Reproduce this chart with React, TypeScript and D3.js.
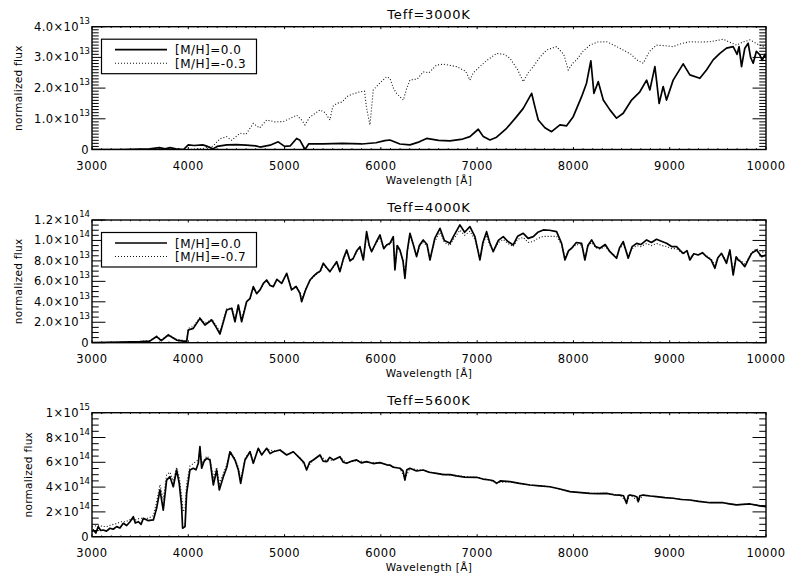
import React from "react";
import * as d3 from "d3";

// Wavelength axis (Angstrom)
const waveTicks = [3000, 4000, 5000, 6000, 7000, 8000, 9000, 10000];

// Teff = 3000 K, flux in units of 1e13
const t3000Solid: [number, number][] = [
  [3000, 0], [3300, 0], [3600, 0.02], [3700, 0.06], [3760, 0.02], [3810, 0.06], [3870, 0.02],
  [3950, 0], [4000, 0.15], [4060, 0.13], [4150, 0.15], [4200, 0.1], [4256, 0.02], [4300, 0.1],
  [4400, 0.15], [4500, 0.16], [4600, 0.14], [4700, 0.12], [4745, 0.08], [4850, 0.14], [4934, 0.25],
  [5000, 0.1], [5060, 0.12], [5125, 0.36], [5160, 0.3], [5212, 0], [5250, 0.18], [5400, 0.18],
  [5600, 0.2], [5800, 0.18], [5950, 0.22], [6040, 0.29], [6094, 0.31], [6198, 0.18], [6302, 0.15],
  [6400, 0.25], [6475, 0.36], [6600, 0.3], [6717, 0.28], [6850, 0.34], [6925, 0.42], [7012, 0.66],
  [7064, 0.42], [7133, 0.31], [7202, 0.4], [7306, 0.69], [7410, 1.07], [7479, 1.34], [7566, 1.83],
  [7600, 1.39], [7635, 0.96], [7704, 0.71], [7773, 0.58], [7860, 0.8], [7929, 0.77], [7998, 1.07],
  [8085, 1.72], [8136, 2.16], [8181, 2.89], [8213, 1.83], [8258, 2.21], [8310, 1.61], [8379, 1.29],
  [8448, 1.02], [8517, 1.18], [8604, 1.61], [8690, 1.88], [8760, 2.26], [8794, 1.94], [8846, 2.7],
  [8863, 2.26], [8890, 1.5], [8932, 2.05], [8967, 1.61], [9036, 2.26], [9140, 2.79], [9209, 2.43],
  [9313, 2.32], [9382, 2.59], [9451, 2.92], [9521, 3.13], [9590, 3.3], [9659, 3.35], [9700, 3.1],
  [9720, 3.35], [9746, 2.7], [9780, 3.3], [9815, 3.46], [9840, 3.0], [9867, 2.81], [9900, 3.2],
  [9936, 3.08], [9960, 2.9], [9988, 3.1], [10000, 3.0],
];
const t3000Poor: [number, number][] = [
  [3000, 0], [4000, 0], [4150, 0.03], [4256, 0.11], [4330, 0.35], [4399, 0.42], [4450, 0.3],
  [4537, 0.53], [4600, 0.5], [4675, 0.85], [4740, 0.7], [4814, 0.96], [4900, 0.9], [4987, 0.91],
  [5050, 1.0], [5125, 1.12], [5180, 0.95], [5212, 0.8], [5260, 1.05], [5368, 1.29], [5420, 1.2],
  [5471, 0.96], [5500, 1.4], [5541, 1.5], [5600, 1.55], [5645, 1.72], [5700, 1.8], [5783, 1.88],
  [5830, 1.9], [5852, 1.34], [5887, 0.8], [5921, 1.94], [6000, 2.2], [6060, 2.37], [6094, 2.32],
  [6130, 2.0], [6163, 1.83], [6233, 1.61], [6270, 2.0], [6302, 2.26], [6380, 2.3], [6440, 2.53],
  [6500, 2.5], [6578, 2.75], [6650, 2.78], [6786, 2.7], [6880, 2.55], [6925, 2.26], [6960, 2.5],
  [7029, 2.7], [7100, 2.9], [7202, 3.13], [7280, 3.1], [7341, 2.97], [7420, 2.6], [7479, 2.21],
  [7530, 2.5], [7583, 2.7], [7650, 3.0], [7721, 3.24], [7825, 3.35], [7900, 3.1], [7946, 2.59],
  [7990, 2.8], [8033, 2.92], [8100, 3.2], [8171, 3.4], [8250, 3.5], [8344, 3.51], [8420, 3.4],
  [8517, 3.24], [8600, 3.1], [8656, 2.92], [8725, 2.81], [8790, 3.2], [8863, 3.4], [8950, 3.38],
  [9036, 3.35], [9120, 3.45], [9209, 3.51], [9300, 3.5], [9417, 3.51], [9555, 3.59], [9620, 3.5],
  [9694, 3.4], [9760, 3.5], [9833, 3.57], [9900, 3.45], [9971, 3.35], [10000, 3.4],
];

// Teff = 4000 K, flux in units of 1e13
const t4000Solid: [number, number][] = [
  [3000, 0], [3300, 0.05], [3500, 0.1], [3600, 0.15], [3671, 0.6], [3720, 0.2], [3792, 0.75],
  [3879, 0.26], [3983, 0.1], [4000, 1.24], [4052, 1.4], [4121, 2.38], [4173, 1.73], [4243, 2.22],
  [4290, 1.5], [4329, 0.85], [4399, 3.2], [4451, 3.37], [4485, 2.05], [4520, 3.69], [4554, 2.05],
  [4606, 4.01], [4640, 4.3], [4675, 5.48], [4710, 4.8], [4745, 5.16], [4780, 5.8], [4814, 6.13],
  [4850, 5.6], [4883, 5.48], [4920, 6.2], [4970, 5.81], [5022, 6.79], [5073, 5.16], [5120, 5.5],
  [5160, 4.83], [5177, 4.01], [5220, 5.2], [5264, 6.13], [5300, 6.5], [5333, 6.79], [5370, 7.0],
  [5402, 7.77], [5440, 7.3], [5471, 6.95], [5541, 7.93], [5575, 6.95], [5610, 8.2], [5645, 9.07],
  [5680, 8.0], [5714, 8.26], [5750, 9.0], [5783, 9.39], [5818, 8.09], [5852, 10.86], [5880, 9.5],
  [5904, 8.9], [5950, 9.8], [5991, 10.54], [6030, 9.2], [6060, 9.56], [6094, 9.72], [6129, 10.37],
  [6146, 7.11], [6170, 9.5], [6198, 9.07], [6230, 8.0], [6250, 6.3], [6275, 9.0], [6302, 10.7],
  [6340, 9.5], [6371, 8.42], [6400, 9.5], [6440, 10.05], [6480, 9.6], [6510, 8.09], [6560, 10.2],
  [6614, 11.19], [6660, 10.0], [6717, 9.72], [6760, 10.5], [6821, 11.52], [6870, 10.8], [6925, 11.35],
  [6977, 10.37], [7029, 8.09], [7060, 9.8], [7098, 10.86], [7130, 9.8], [7167, 8.9], [7220, 10.0],
  [7271, 10.37], [7320, 9.9], [7375, 9.56], [7420, 10.4], [7479, 10.7], [7530, 10.2], [7583, 10.37],
  [7630, 10.8], [7687, 11.03], [7750, 11.0], [7825, 10.86], [7877, 9.72], [7912, 8.09], [7950, 9.0],
  [7981, 9.24], [8030, 9.8], [8085, 9.72], [8119, 8.09], [8150, 9.5], [8189, 10.05], [8230, 9.4],
  [8275, 9.24], [8330, 9.6], [8379, 8.9], [8448, 8.26], [8480, 9.3], [8517, 9.89], [8569, 8.26],
  [8610, 9.4], [8656, 9.72], [8700, 9.6], [8760, 10.05], [8810, 9.8], [8863, 10.11], [8920, 9.9],
  [8967, 9.72], [9020, 9.4], [9071, 9.39], [9110, 9.0], [9140, 8.74], [9180, 9.0], [9209, 8.09],
  [9250, 8.7], [9296, 8.58], [9340, 8.8], [9382, 8.42], [9430, 8.1], [9469, 7.28], [9500, 8.3],
  [9538, 8.74], [9590, 7.77], [9625, 9.07], [9659, 6.62], [9690, 8.4], [9711, 8.09], [9740, 7.9],
  [9780, 7.44], [9820, 8.2], [9850, 8.74], [9902, 9.07], [9954, 8.42], [10000, 8.58],
];
const t4000Poor: [number, number][] = [
  [3000, 0], [3300, 0.05], [3500, 0.12], [3600, 0.2], [3671, 0.65], [3720, 0.25], [3792, 0.8],
  [3879, 0.3], [3983, 0.2], [4000, 1.4], [4052, 1.6], [4121, 2.45], [4173, 1.9], [4243, 2.3],
  [4290, 1.7], [4329, 1.1], [4399, 3.3], [4451, 3.4], [4485, 2.3], [4520, 3.7], [4554, 2.3],
  [4606, 4.05], [4640, 4.3], [4675, 5.4], [4710, 4.85], [4745, 5.15], [4780, 5.75], [4814, 6.05],
  [4850, 5.6], [4883, 5.5], [4920, 6.15], [4970, 5.8], [5022, 6.7], [5073, 5.25], [5120, 5.5],
  [5160, 4.95], [5177, 4.25], [5220, 5.25], [5264, 6.05], [5300, 6.45], [5333, 6.7], [5370, 6.95],
  [5402, 7.6], [5440, 7.25], [5471, 6.95], [5541, 7.8], [5575, 7.0], [5610, 8.1], [5645, 8.9],
  [5680, 8.0], [5714, 8.2], [5750, 8.9], [5783, 9.25], [5818, 8.2], [5852, 10.6], [5880, 9.4],
  [5904, 8.95], [5950, 9.7], [5991, 10.3], [6030, 9.2], [6060, 9.5], [6094, 9.6], [6129, 10.2],
  [6146, 7.4], [6170, 9.4], [6198, 9.0], [6230, 8.1], [6250, 6.6], [6275, 8.9], [6302, 10.5],
  [6340, 9.4], [6371, 8.5], [6400, 9.4], [6440, 9.9], [6480, 9.4], [6510, 8.2], [6560, 9.9],
  [6614, 10.8], [6660, 9.8], [6717, 9.5], [6760, 10.2], [6821, 11.0], [6870, 10.5], [6925, 10.9],
  [6977, 10.1], [7029, 8.3], [7060, 9.6], [7098, 10.5], [7130, 9.6], [7167, 8.95], [7220, 9.8],
  [7271, 10.1], [7320, 9.7], [7375, 9.4], [7420, 10.1], [7479, 10.3], [7530, 9.8], [7583, 9.9],
  [7630, 10.2], [7687, 10.4], [7750, 10.4], [7825, 10.4], [7877, 9.6], [7912, 8.3], [7950, 9.0],
  [7981, 9.2], [8030, 9.6], [8085, 9.55], [8119, 8.3], [8150, 9.4], [8189, 9.8], [8230, 9.3],
  [8275, 9.15], [8330, 9.4], [8379, 8.9], [8448, 8.4], [8480, 9.2], [8517, 9.6], [8569, 8.5],
  [8610, 9.2], [8656, 9.5], [8700, 9.4], [8760, 9.7], [8810, 9.5], [8863, 9.7], [8920, 9.5],
  [8967, 9.4], [9020, 9.2], [9071, 9.2], [9110, 8.9], [9140, 8.7], [9180, 8.9], [9209, 8.3],
  [9250, 8.7], [9296, 8.6], [9340, 8.75], [9382, 8.5], [9430, 8.2], [9469, 7.6], [9500, 8.3],
  [9538, 8.7], [9590, 8.0], [9625, 8.95], [9659, 7.0], [9690, 8.4], [9711, 8.2], [9740, 8.0],
  [9780, 7.7], [9820, 8.3], [9850, 8.8], [9902, 9.2], [9954, 8.9], [10000, 8.8],
];

// Teff = 5600 K, flux in units of 1e14
const t5600Solid: [number, number][] = [
  [3000, 0.4], [3014, 0.54], [3040, 0.3], [3065, 0.81], [3090, 0.5], [3117, 0.54], [3150, 0.45],
  [3187, 0.68], [3220, 0.6], [3256, 0.81], [3290, 0.7], [3325, 1.08], [3360, 0.9], [3395, 1.21],
  [3429, 1.61], [3450, 1.1], [3481, 1.21], [3510, 1.0], [3533, 1.48], [3580, 1.3], [3637, 1.35],
  [3671, 2.29], [3706, 3.77], [3740, 2.15], [3775, 4.57], [3810, 4.84], [3844, 4.03], [3879, 5.38],
  [3906, 4.3], [3930, 2.5], [3941, 0.68], [3966, 0.81], [3983, 3.5], [4017, 5.38], [4052, 5.52],
  [4080, 5.4], [4104, 5.92], [4121, 7.26], [4139, 5.52], [4165, 6.1], [4191, 6.32], [4225, 6.19],
  [4260, 4.17], [4295, 5.38], [4322, 3.77], [4364, 4.84], [4400, 5.6], [4433, 6.85], [4485, 6.19],
  [4520, 5.38], [4544, 4.3], [4589, 6.19], [4641, 6.85], [4675, 5.92], [4727, 7.13], [4762, 6.59],
  [4814, 7.13], [4850, 6.7], [4883, 6.85], [4952, 6.99], [5022, 6.59], [5091, 6.85], [5160, 6.32],
  [5200, 6.0], [5229, 5.38], [5260, 6.0], [5298, 6.19], [5368, 6.59], [5400, 6.1], [5437, 6.05],
  [5470, 6.4], [5506, 6.19], [5575, 6.45], [5610, 6.0], [5645, 5.92], [5700, 6.1], [5748, 6.19],
  [5800, 5.95], [5852, 6.05], [5920, 5.9], [5991, 5.97], [6060, 5.8], [6094, 5.78], [6129, 5.6],
  [6198, 5.52], [6230, 5.3], [6250, 4.57], [6270, 5.4], [6302, 5.52], [6370, 5.3], [6440, 5.38],
  [6500, 5.2], [6578, 5.11], [6650, 5.0], [6720, 5.0], [6786, 4.9], [6870, 4.8], [6994, 4.79],
  [7060, 4.65], [7133, 4.57], [7170, 4.5], [7202, 4.3], [7240, 4.5], [7341, 4.44], [7440, 4.3],
  [7548, 4.17], [7650, 4.1], [7756, 4.03], [7860, 3.85], [7964, 3.63], [8080, 3.55], [8171, 3.5],
  [8250, 3.48], [8344, 3.5], [8420, 3.38], [8483, 3.36], [8520, 3.3], [8552, 2.69], [8570, 3.3],
  [8587, 3.36], [8630, 3.3], [8660, 3.2], [8673, 2.82], [8690, 3.3], [8725, 3.36], [8800, 3.28],
  [8863, 3.23], [8950, 3.15], [9036, 3.1], [9120, 3.0], [9209, 2.96], [9300, 2.85], [9417, 2.74],
  [9480, 2.75], [9555, 2.74], [9620, 2.65], [9694, 2.56], [9760, 2.6], [9833, 2.64], [9900, 2.55],
  [9936, 2.48], [10000, 2.42],
];
const t5600Poor: [number, number][] = [
  [3000, 0.8], [3050, 0.9], [3100, 0.85], [3150, 0.8], [3200, 0.95], [3250, 1.05], [3300, 1.2],
  [3350, 1.2], [3400, 1.4], [3450, 1.35], [3500, 1.5], [3560, 1.45], [3600, 1.55], [3637, 1.7],
  [3671, 2.8], [3706, 4.2], [3740, 3.0], [3775, 5.0], [3810, 5.2], [3844, 4.5], [3879, 5.6],
  [3906, 4.8], [3930, 3.4], [3945, 2.0], [3966, 2.3], [3983, 4.3], [4017, 5.7], [4052, 5.9],
  [4104, 6.2], [4121, 7.0], [4139, 5.9], [4191, 6.5], [4225, 6.3], [4260, 4.8], [4295, 5.6],
  [4322, 4.3], [4364, 5.1], [4400, 5.8], [4433, 6.9], [4485, 6.3], [4520, 5.6], [4544, 4.6],
  [4589, 6.3], [4641, 6.9], [4675, 6.0], [4727, 7.1], [4762, 6.65], [4814, 7.1], [4883, 6.9],
  [4952, 7.0], [5022, 6.6], [5091, 6.85], [5160, 6.35], [5229, 5.5], [5298, 6.2], [5368, 6.55],
  [5437, 6.1], [5506, 6.2], [5575, 6.4], [5645, 5.95], [5748, 6.15], [5852, 6.0], [5991, 5.95],
  [6094, 5.75], [6198, 5.5], [6250, 4.7], [6302, 5.5], [6440, 5.35], [6578, 5.1], [6786, 4.9],
  [6994, 4.78], [7133, 4.55], [7202, 4.35], [7341, 4.43], [7548, 4.17], [7756, 4.02], [7964, 3.63],
  [8171, 3.5], [8344, 3.49], [8483, 3.35], [8552, 2.8], [8587, 3.35], [8673, 2.9], [8725, 3.35],
  [8863, 3.22], [9036, 3.1], [9209, 2.96], [9417, 2.75], [9555, 2.74], [9694, 2.57], [9833, 2.63],
  [10000, 2.43],
];

type TickLabel = { v: number; m: string; e: string };

const ticks3000: TickLabel[] = [
  { v: 0, m: "0", e: "" }, { v: 1, m: "1.0×10", e: "13" }, { v: 2, m: "2.0×10", e: "13" },
  { v: 3, m: "3.0×10", e: "13" }, { v: 4, m: "4.0×10", e: "13" },
];
const ticks4000: TickLabel[] = [
  { v: 0, m: "0", e: "" }, { v: 2, m: "2.0×10", e: "13" }, { v: 4, m: "4.0×10", e: "13" },
  { v: 6, m: "6.0×10", e: "13" }, { v: 8, m: "8.0×10", e: "13" }, { v: 10, m: "1.0×10", e: "14" },
  { v: 12, m: "1.2×10", e: "14" },
];
const ticks5600: TickLabel[] = [
  { v: 0, m: "0", e: "" }, { v: 2, m: "2×10", e: "14" }, { v: 4, m: "4×10", e: "14" },
  { v: 6, m: "6×10", e: "14" }, { v: 8, m: "8×10", e: "14" }, { v: 10, m: "1×10", e: "15" },
];

const titles = ["Teff=3000K", "Teff=4000K", "Teff=5600K"];
const legend3000 = ["[M/H]=0.0", "[M/H]=-0.3"];
const legend4000 = ["[M/H]=0.0", "[M/H]=-0.7"];

const FONT = "'DejaVu Sans', 'Liberation Sans', sans-serif";
const LEFT = 92;
const RIGHT = 766;

type PanelProps = {
  top: number;
  height: number;
  title: string;
  yMax: number;
  yMinorStep: number;
  yTicks: TickLabel[];
  solid: [number, number][];
  dotted: [number, number][];
  legend?: string[];
  yTitleX: number;
};

function Panel(p: PanelProps) {
  const bottom = p.top + p.height;
  const x = d3.scaleLinear().domain([3000, 10000]).range([LEFT, RIGHT]);
  const y = d3.scaleLinear().domain([0, p.yMax]).range([bottom, p.top]);
  const line = d3
    .line<[number, number]>()
    .x((d) => x(d[0]))
    .y((d) => y(d[1]));

  const yTickLen = 0.02 * (RIGHT - LEFT);
  const xTickLen = 0.02 * p.height;
  const xMinor = d3.range(3000, 10001, 100);
  const yMinor = d3.range(0, p.yMax + 1e-9, p.yMinorStep);

  const clipId = `clip-${p.title}`;
  return (
    <g>
      <defs>
        <clipPath id={clipId}>
          <rect x={LEFT} y={p.top} width={RIGHT - LEFT} height={p.height} />
        </clipPath>
      </defs>
      <text
        x={(LEFT + RIGHT) / 2}
        y={p.top - 8}
        textAnchor="middle"
        fontSize={13}
        letterSpacing={0.8}
        fontFamily={FONT}
      >
        {p.title}
      </text>

      {/* spectra */}
      <g clipPath={`url(#${clipId})`}>
        <path d={line(p.dotted) || ""} fill="none" stroke="#111" strokeWidth={1.1} strokeDasharray="1 2" />
        <path d={line(p.solid) || ""} fill="none" stroke="#000" strokeWidth={1.7} strokeLinejoin="round" />
      </g>

      {/* frame */}
      <rect x={LEFT} y={p.top} width={RIGHT - LEFT} height={p.height} fill="none" stroke="#000" strokeWidth={1.4} />

      {/* x ticks */}
      {xMinor.map((v) => {
        const major = v % 1000 === 0;
        const l = major ? xTickLen : xTickLen / 2;
        return (
          <g key={`xt${v}`} stroke="#000" strokeWidth={1}>
            <line x1={x(v)} x2={x(v)} y1={bottom} y2={bottom - l} />
            <line x1={x(v)} x2={x(v)} y1={p.top} y2={p.top + l} />
          </g>
        );
      })}
      {waveTicks.map((v) => (
        <text key={`xl${v}`} x={x(v)} y={bottom + 20} textAnchor="middle" fontSize={11.5} letterSpacing={0.5} fontFamily={FONT}>
          {v}
        </text>
      ))}
      <text x={(LEFT + RIGHT) / 2} y={bottom + 34} textAnchor="middle" fontSize={10.5} letterSpacing={0.4} fontFamily={FONT}>
        Wavelength [Å]
      </text>

      {/* y ticks */}
      {yMinor.map((v, i) => {
        const major = p.yTicks.some((t) => Math.abs(t.v - v) < 1e-6);
        const l = major ? yTickLen : yTickLen / 2;
        return (
          <g key={`yt${i}`} stroke="#000" strokeWidth={1}>
            <line x1={LEFT} x2={LEFT + l} y1={y(v)} y2={y(v)} />
            <line x1={RIGHT} x2={RIGHT - l} y1={y(v)} y2={y(v)} />
          </g>
        );
      })}
      {p.yTicks.map((t) => (
        <text key={`yl${t.v}`} x={t.e ? LEFT - 13 : LEFT - 3} y={y(t.v) + 4} textAnchor="end" fontSize={11.5} letterSpacing={0.4} fontFamily={FONT}>
          {t.m}
        </text>
      ))}
      {p.yTicks
        .filter((t) => t.e)
        .map((t) => (
          <text key={`ye${t.v}`} x={LEFT - 2} y={y(t.v) - 3} textAnchor="end" fontSize={8.5} fontFamily={FONT}>
            {t.e}
          </text>
        ))}
      <text
        transform={`translate(${p.yTitleX},${(p.top + bottom) / 2}) rotate(-90)`}
        textAnchor="middle"
        fontSize={10.5}
        letterSpacing={0.3}
        fontFamily={FONT}
      >
        normalized flux
      </text>

      {/* legend */}
      {p.legend && (
        <g>
          <rect x={101.5} y={p.top + 12.5} width={155} height={34.5} fill="#fff" stroke="#000" strokeWidth={1.2} />
          <line x1={115} x2={167} y1={p.top + 23} y2={p.top + 23} stroke="#000" strokeWidth={1.7} />
          <line x1={115} x2={167} y1={p.top + 36.5} y2={p.top + 36.5} stroke="#111" strokeWidth={1.1} strokeDasharray="1 2" />
          <text x={175} y={p.top + 27.5} fontSize={12} letterSpacing={0.5} fontFamily={FONT}>
            {p.legend[0]}
          </text>
          <text x={175} y={p.top + 41} fontSize={12} letterSpacing={0.5} fontFamily={FONT}>
            {p.legend[1]}
          </text>
        </g>
      )}
    </g>
  );
}

export default function App() {
  return (
    <svg
      width={787}
      height={578}
      style={{ position: "absolute", left: 0, top: 0, background: "#fff" }}
    >
      <rect x={0} y={0} width={787} height={578} fill="#fff" />
      <Panel top={26.7} height={122.8} title={titles[0]} yMax={4} yMinorStep={0.1} yTicks={ticks3000}
        solid={t3000Solid} dotted={t3000Poor} legend={legend3000} yTitleX={22} />
      <Panel top={220} height={122.7} title={titles[1]} yMax={12} yMinorStep={0.5} yTicks={ticks4000}
        solid={t4000Solid} dotted={t4000Poor} legend={legend4000} yTitleX={22} />
      <Panel top={412.7} height={124} title={titles[2]} yMax={10} yMinorStep={0.5} yTicks={ticks5600}
        solid={t5600Solid} dotted={t5600Poor} yTitleX={32} />
    </svg>
  );
}
